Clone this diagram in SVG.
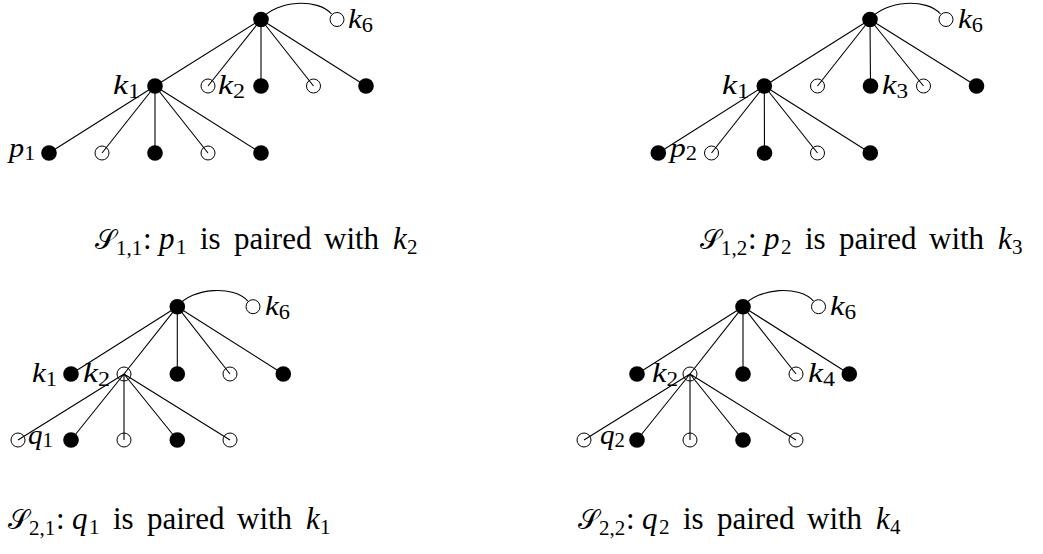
<svg xmlns="http://www.w3.org/2000/svg" width="1043" height="554" viewBox="0 0 1043 554">
<style>
.e{stroke:#000;stroke-width:1.1;fill:none}
.f{fill:#000}
.o{fill:none;stroke:#000;stroke-width:1}
.l{font-family:"Liberation Serif",serif;font-size:28px;font-style:italic}
.s{font-style:normal;font-size:20px}
.c{font-family:"Liberation Serif",serif;font-size:31px}
.cal{font-family:"DejaVu Sans","Liberation Serif",serif;font-size:27px}
.m{font-style:italic}
.cs{font-size:21px}
</style>
<rect width="1043" height="554" fill="#fff"/>
<g id="connectors">
<path class="e" d="M261 19.5L155 86M261 19.5L208 86M261 19.5L261 86M261 19.5L313.5 86M261 19.5L366 86M155 86L49 153M155 86L102 153M155 86L155 153M155 86L208 153M155 86L261 153"/>
<path class="e" d="M261 19.5C276 0 318 -2 331.5 14"/>
<path class="e" d="M870 19.5L764.3 86M870 19.5L817.5 86M870 19.5L870.5 86M870 19.5L923.5 86M870 19.5L976.5 86M764.3 86L658.3 153M764.3 86L711.5 153M764.3 86L764.5 153M764.3 86L817.5 153M764.3 86L870.3 153"/>
<path class="e" d="M870 19.5C885 0 927 -2 940.5 14"/>
<path class="e" d="M177.3 306.7L71 374M177.3 306.7L124 374M177.3 306.7L177.3 374M177.3 306.7L230 374M177.3 306.7L283.3 374M124 374L18 440M124 374L71 440M124 374L124 440M124 374L177.3 440M124 374L230 440"/>
<path class="e" d="M177.3 306.7C192.3 287.2 234.3 285.2 247.8 301.2"/>
<path class="e" d="M743 306.7L637 374M743 306.7L690 374M743 306.7L743 374M743 306.7L796 374M743 306.7L849.3 374M690 374L584 440M690 374L637 440M690 374L690 440M690 374L743 440M690 374L796 440"/>
<path class="e" d="M743 306.7C758 287.2 800 285.2 813.5 301.2"/>
</g>
<g id="p1-root"><circle class="f" cx="261" cy="19.5" r="7.8"/></g>
<g id="p1-k6"><circle class="o" cx="337" cy="19.5" r="7"/><text class="l" x="348" y="28" textLength="25" lengthAdjust="spacingAndGlyphs">k<tspan class="s" dy="4">6</tspan></text></g>
<g id="p1-k1"><circle class="f" cx="155" cy="86" r="7.8"/><text class="l" x="113" y="94" textLength="27" lengthAdjust="spacingAndGlyphs">k<tspan class="s" dy="4">1</tspan></text></g>
<g id="p1-k2"><circle class="o" cx="208" cy="86" r="7"/><text class="l" x="218" y="94" textLength="27" lengthAdjust="spacingAndGlyphs">k<tspan class="s" dy="4">2</tspan></text></g>
<g id="p1-m3"><circle class="f" cx="261" cy="86" r="7.8"/></g>
<g id="p1-m4"><circle class="o" cx="313.5" cy="86" r="7"/></g>
<g id="p1-m5"><circle class="f" cx="366" cy="86" r="7.8"/></g>
<g id="p1-p1"><circle class="f" cx="49" cy="153" r="7.8"/><text class="l" x="9" y="157" textLength="26" lengthAdjust="spacingAndGlyphs">p<tspan class="s" dy="3">1</tspan></text></g>
<g id="p1-b2"><circle class="o" cx="102" cy="153" r="7"/></g>
<g id="p1-b3"><circle class="f" cx="155" cy="153" r="7.8"/></g>
<g id="p1-b4"><circle class="o" cx="208" cy="153" r="7"/></g>
<g id="p1-b5"><circle class="f" cx="261" cy="153" r="7.8"/></g>
<g id="p2-root"><circle class="f" cx="870" cy="19.5" r="7.8"/></g>
<g id="p2-k6"><circle class="o" cx="946" cy="19.5" r="7"/><text class="l" x="958" y="28" textLength="25" lengthAdjust="spacingAndGlyphs">k<tspan class="s" dy="4">6</tspan></text></g>
<g id="p2-k1"><circle class="f" cx="764.3" cy="86" r="7.8"/><text class="l" x="722" y="94" textLength="27" lengthAdjust="spacingAndGlyphs">k<tspan class="s" dy="4">1</tspan></text></g>
<g id="p2-m2"><circle class="o" cx="817.5" cy="86" r="7"/></g>
<g id="p2-k3"><circle class="f" cx="870.5" cy="86" r="7.8"/><text class="l" x="882" y="94" textLength="26" lengthAdjust="spacingAndGlyphs">k<tspan class="s" dy="4">3</tspan></text></g>
<g id="p2-m4"><circle class="o" cx="923.5" cy="86" r="7"/></g>
<g id="p2-m5"><circle class="f" cx="976.5" cy="86" r="7.8"/></g>
<g id="p2-p2"><circle class="f" cx="658.3" cy="153" r="7.8"/><text class="l" x="670" y="157" textLength="27" lengthAdjust="spacingAndGlyphs">p<tspan class="s" dy="3">2</tspan></text></g>
<g id="p2-b2"><circle class="o" cx="711.5" cy="153" r="7"/></g>
<g id="p2-b3"><circle class="f" cx="764.5" cy="153" r="7.8"/></g>
<g id="p2-b4"><circle class="o" cx="817.5" cy="153" r="7"/></g>
<g id="p2-b5"><circle class="f" cx="870.3" cy="153" r="7.8"/></g>
<g id="p3-root"><circle class="f" cx="177.3" cy="306.7" r="7.8"/></g>
<g id="p3-k6"><circle class="o" cx="253" cy="306.7" r="7"/><text class="l" x="265" y="315" textLength="25" lengthAdjust="spacingAndGlyphs">k<tspan class="s" dy="4">6</tspan></text></g>
<g id="p3-k1"><circle class="f" cx="71" cy="374" r="7.8"/><text class="l" x="32" y="382" textLength="25" lengthAdjust="spacingAndGlyphs">k<tspan class="s" dy="4">1</tspan></text></g>
<g id="p3-k2"><circle class="o" cx="124" cy="374" r="7"/><text class="l" x="83" y="382" textLength="27" lengthAdjust="spacingAndGlyphs">k<tspan class="s" dy="4">2</tspan></text></g>
<g id="p3-m3"><circle class="f" cx="177.3" cy="374" r="7.8"/></g>
<g id="p3-m4"><circle class="o" cx="230" cy="374" r="7"/></g>
<g id="p3-m5"><circle class="f" cx="283.3" cy="374" r="7.8"/></g>
<g id="p3-q1"><circle class="o" cx="18" cy="440" r="7"/><text class="l" x="28" y="444" textLength="25" lengthAdjust="spacingAndGlyphs">q<tspan class="s" dy="3">1</tspan></text></g>
<g id="p3-b2"><circle class="f" cx="71" cy="440" r="7.8"/></g>
<g id="p3-b3"><circle class="o" cx="124" cy="440" r="7"/></g>
<g id="p3-b4"><circle class="f" cx="177.3" cy="440" r="7.8"/></g>
<g id="p3-b5"><circle class="o" cx="230" cy="440" r="7"/></g>
<g id="p4-root"><circle class="f" cx="743" cy="306.7" r="7.8"/></g>
<g id="p4-k6"><circle class="o" cx="818.5" cy="306.7" r="7"/><text class="l" x="830" y="315" textLength="26" lengthAdjust="spacingAndGlyphs">k<tspan class="s" dy="4">6</tspan></text></g>
<g id="p4-m1"><circle class="f" cx="637" cy="374" r="7.8"/></g>
<g id="p4-k2"><circle class="o" cx="690" cy="374" r="7"/><text class="l" x="652" y="382" textLength="26" lengthAdjust="spacingAndGlyphs">k<tspan class="s" dy="4">2</tspan></text></g>
<g id="p4-m3"><circle class="f" cx="743" cy="374" r="7.8"/></g>
<g id="p4-k4"><circle class="o" cx="796" cy="374" r="7"/><text class="l" x="808" y="382" textLength="27" lengthAdjust="spacingAndGlyphs">k<tspan class="s" dy="4">4</tspan></text></g>
<g id="p4-m5"><circle class="f" cx="849.3" cy="374" r="7.8"/></g>
<g id="p4-q2"><circle class="o" cx="584" cy="440" r="7"/><text class="l" x="600" y="444" textLength="25" lengthAdjust="spacingAndGlyphs">q<tspan class="s" dy="3">2</tspan></text></g>
<g id="p4-b2"><circle class="f" cx="637" cy="440" r="7.8"/></g>
<g id="p4-b3"><circle class="o" cx="690" cy="440" r="7"/></g>
<g id="p4-b4"><circle class="f" cx="743" cy="440" r="7.8"/></g>
<g id="p4-b5"><circle class="o" cx="796" cy="440" r="7"/></g>
<g id="caption-1" transform="translate(95 249)"><text class="c"><tspan class="cal" x="0" y="0">𝒮</tspan><tspan class="cs" x="21" y="6">1,1</tspan><tspan x="48" y="0">:</tspan><tspan class="m" x="64" y="0">p</tspan><tspan class="cs" x="81" y="5">1</tspan><tspan x="105" y="0">is</tspan><tspan x="139" y="0">paired</tspan><tspan x="229" y="0">with</tspan><tspan class="m" x="298" y="0">k</tspan><tspan class="cs" x="312" y="5">2</tspan></text></g>
<g id="caption-2" transform="translate(700 249)"><text class="c"><tspan class="cal" x="0" y="0">𝒮</tspan><tspan class="cs" x="21" y="6">1,2</tspan><tspan x="48" y="0">:</tspan><tspan class="m" x="64" y="0">p</tspan><tspan class="cs" x="81" y="5">2</tspan><tspan x="105" y="0">is</tspan><tspan x="139" y="0">paired</tspan><tspan x="229" y="0">with</tspan><tspan class="m" x="298" y="0">k</tspan><tspan class="cs" x="312" y="5">3</tspan></text></g>
<g id="caption-3" transform="translate(8 529)"><text class="c"><tspan class="cal" x="0" y="0">𝒮</tspan><tspan class="cs" x="21" y="6">2,1</tspan><tspan x="48" y="0">:</tspan><tspan class="m" x="64" y="0">q</tspan><tspan class="cs" x="81" y="5">1</tspan><tspan x="105" y="0">is</tspan><tspan x="139" y="0">paired</tspan><tspan x="229" y="0">with</tspan><tspan class="m" x="298" y="0">k</tspan><tspan class="cs" x="312" y="5">1</tspan></text></g>
<g id="caption-4" transform="translate(578 529)"><text class="c"><tspan class="cal" x="0" y="0">𝒮</tspan><tspan class="cs" x="21" y="6">2,2</tspan><tspan x="48" y="0">:</tspan><tspan class="m" x="64" y="0">q</tspan><tspan class="cs" x="81" y="5">2</tspan><tspan x="105" y="0">is</tspan><tspan x="139" y="0">paired</tspan><tspan x="229" y="0">with</tspan><tspan class="m" x="298" y="0">k</tspan><tspan class="cs" x="312" y="5">4</tspan></text></g>
</svg>
